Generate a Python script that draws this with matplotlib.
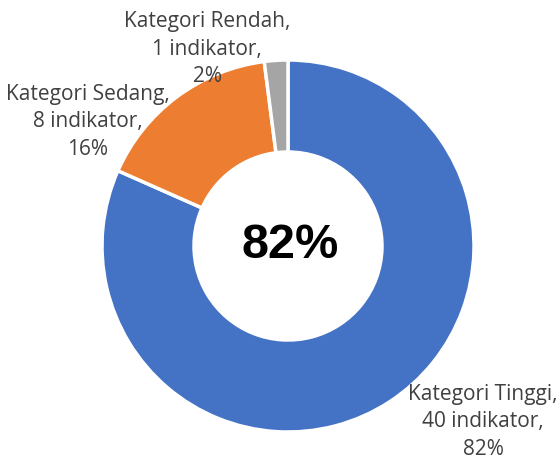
import matplotlib
matplotlib.use("Agg")
import matplotlib.pyplot as plt

categories = ["Kategori Tinggi", "Kategori Sedang", "Kategori Rendah"]
counts = [40, 8, 1]
colors = ["#4472C4", "#ED7D31", "#A5A5A5"]
center_label = "82%"

W, H = 560, 464
fig = plt.figure(figsize=(W / 100, H / 100), dpi=100)
ax = fig.add_axes([0, 0, 1, 1])

cx, cy = 288, H - 247
R = 186
ax.pie(counts, colors=colors, startangle=90, counterclock=False,
       center=(cx, cy), radius=R, frame=True,
       wedgeprops=dict(width=R - 94, edgecolor="white", linewidth=2.5))
ax.set_xlim(0, W)
ax.set_ylim(0, H)
ax.set_aspect("equal")
ax.axis("off")

total = sum(counts)
label_pos = [(483, 422), (88, 122), (207, 49)]
font = ["Open Sans", "DejaVu Sans"]
for cat, n, (px, py) in zip(categories, counts, label_pos):
    pct = round(100 * n / total)
    ax.text(px, H - py, f"{cat},\n{n} indikator,\n{pct}%", ha="center", va="center",
            fontsize=15, color="#404040", family=font, linespacing=1.42)

ax.text(cx + 2, H - 245, center_label, ha="center", va="center", fontsize=35,
        fontweight="bold", color="black", family=["Liberation Sans", "DejaVu Sans"])

fig.savefig("out.png", dpi=100)
